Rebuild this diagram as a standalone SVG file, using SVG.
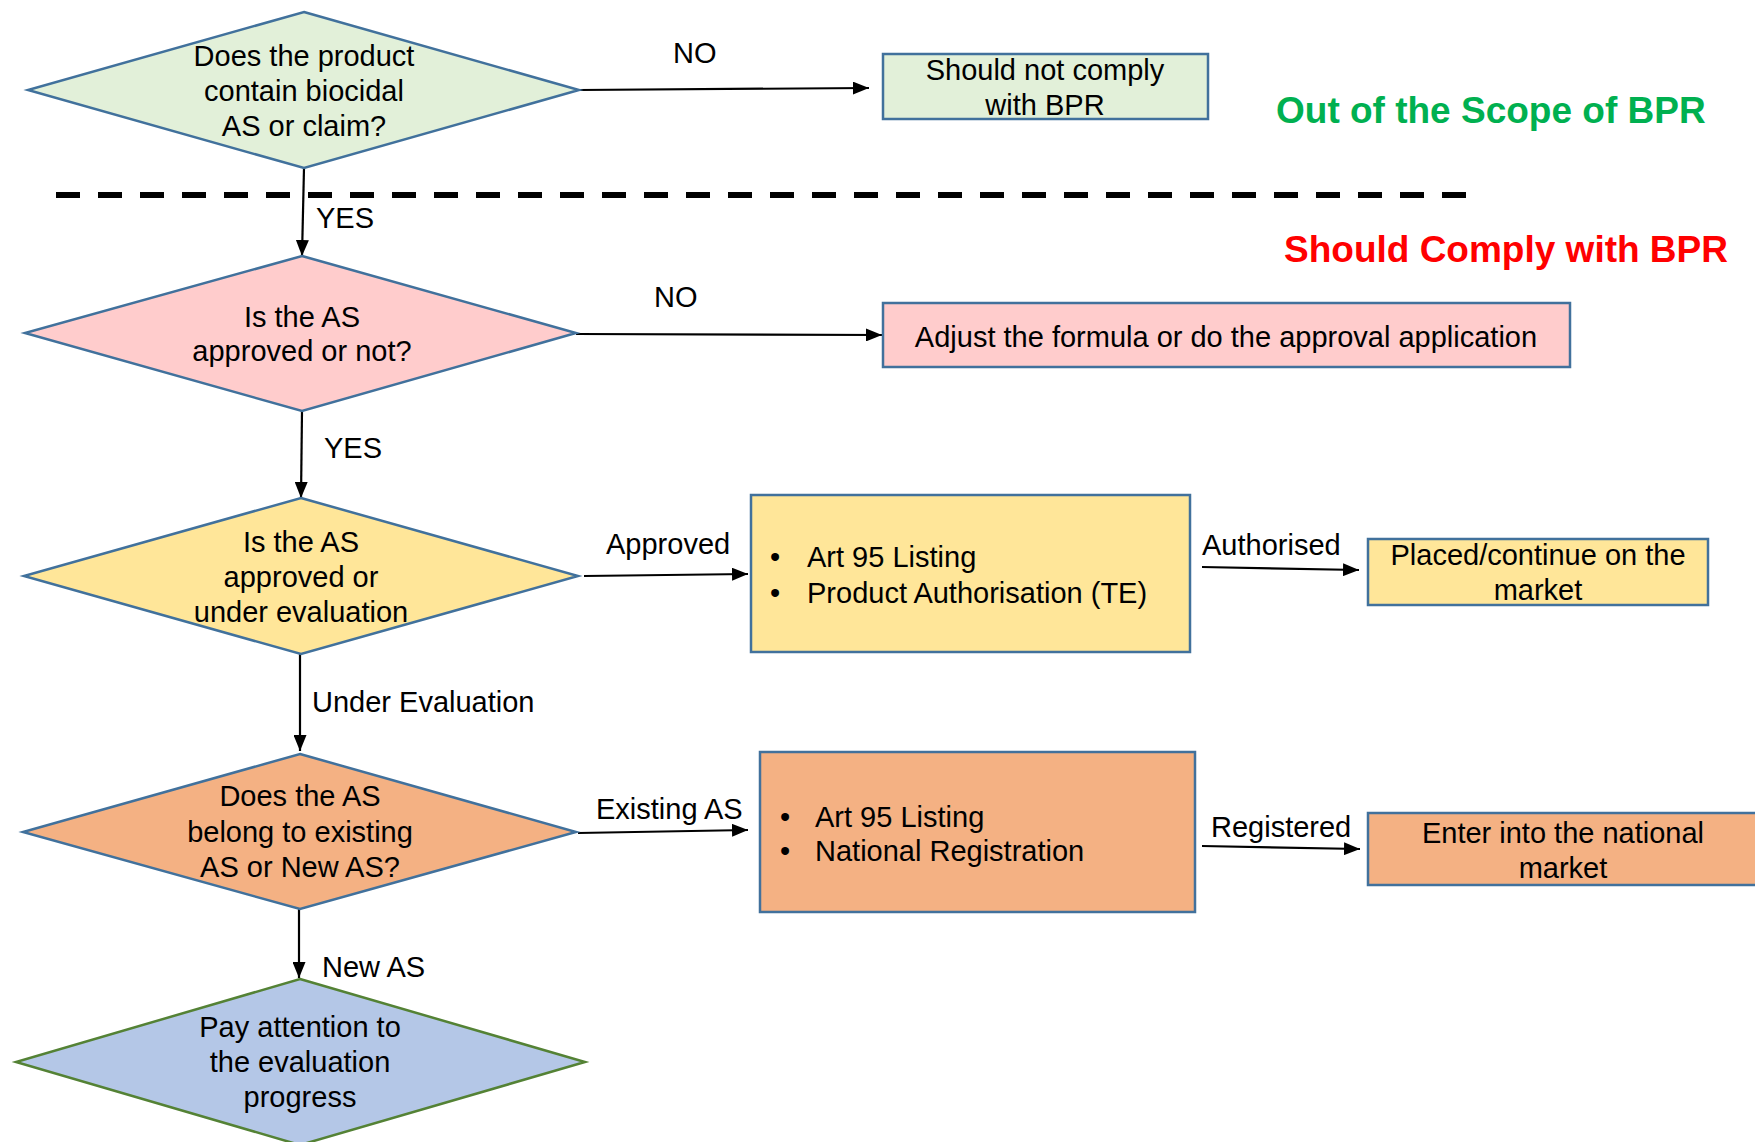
<svg xmlns="http://www.w3.org/2000/svg" width="1755" height="1142" viewBox="0 0 1755 1142">
  <style>
    text { font-family: "Liberation Sans", Arial, sans-serif; font-size: 29px; fill: #000; }
    .c { text-anchor: middle; }
    .shape { stroke: #41719C; stroke-width: 2.5; }
    .green { fill: #E2F0D9; }
    .pink { fill: #FFCCCC; }
    .yellow { fill: #FFE699; }
    .orange { fill: #F4B183; }
    .blue { fill: #B4C7E7; stroke: #548235; stroke-width: 2.5; }
    .link { fill: none; stroke: #000; stroke-width: 2.2; marker-end: url(#arrow); }
    .title { font-weight: bold; font-size: 37px; }
  </style>
  <defs>
    <marker id="arrow" markerUnits="userSpaceOnUse" markerWidth="16" markerHeight="13" refX="16" refY="6.5" orient="auto">
      <path d="M0,0 L16,6.5 L0,13 Z" fill="#000"/>
    </marker>
  </defs>

  <rect width="1755" height="1142" fill="#fff"/>

  <!-- scope divider -->
  <line x1="56" y1="195" x2="1466" y2="195" stroke="#000" stroke-width="6" stroke-dasharray="24 18"/>
  <text class="title" x="1276" y="123" fill="#00B050" style="fill:#00B050">Out of the Scope of BPR</text>
  <text class="title" x="1284" y="262" style="fill:#FF0000">Should Comply with BPR</text>

  <!-- connectors -->
  <g id="connectors">
    <path class="link" d="M579,90 L869,88"/>
    <path class="link" d="M304,168 L302,256"/>
    <path class="link" d="M576,334 L882,335"/>
    <path class="link" d="M302,411 L301,498"/>
    <path class="link" d="M584,576 L748,574"/>
    <path class="link" d="M1202,567 L1359,570"/>
    <path class="link" d="M300,654 L300,751"/>
    <path class="link" d="M578,833 L748,830"/>
    <path class="link" d="M1202,846 L1360,849"/>
    <path class="link" d="M299,909 L299,978"/>

    <text x="673" y="63">NO</text>
    <text x="316" y="228">YES</text>
    <text x="654" y="307">NO</text>
    <text x="324" y="458">YES</text>
    <text x="606" y="554">Approved</text>
    <text x="1202" y="555">Authorised</text>
    <text x="312" y="712">Under Evaluation</text>
    <text x="596" y="819">Existing AS</text>
    <text x="1211" y="837">Registered</text>
    <text x="322" y="977">New AS</text>
  </g>

  <!-- decision: contains biocidal AS -->
  <g id="q-biocidal">
    <polygon class="shape green" points="304,12 579,90 304,168 28,90"/>
    <text class="c" x="304" y="66">Does the product</text>
    <text class="c" x="304" y="101">contain biocidal</text>
    <text class="c" x="304" y="136">AS or claim?</text>
  </g>

  <g id="out-of-scope">
    <rect class="shape green" x="883" y="54" width="325" height="65"/>
    <text class="c" x="1045" y="80">Should not comply</text>
    <text class="c" x="1045" y="115">with BPR</text>
  </g>

  <!-- decision: AS approved -->
  <g id="q-approved">
    <polygon class="shape pink" points="302,256 576,333 302,411 25,333"/>
    <text class="c" x="302" y="327">Is the AS</text>
    <text class="c" x="302" y="361">approved or not?</text>
  </g>

  <g id="adjust">
    <rect class="shape pink" x="883" y="303" width="687" height="64"/>
    <text class="c" x="1226" y="347">Adjust the formula or do the approval application</text>
  </g>

  <!-- decision: approved or under evaluation -->
  <g id="q-status">
    <polygon class="shape yellow" points="301,498 578,576 301,654 24,576"/>
    <text class="c" x="301" y="552">Is the AS</text>
    <text class="c" x="301" y="587">approved or</text>
    <text class="c" x="301" y="622">under evaluation</text>
  </g>

  <g id="authorisation">
    <rect class="shape yellow" x="751" y="495" width="439" height="157"/>
    <text class="c" x="775" y="567">•</text>
    <text x="807" y="567">Art 95 Listing</text>
    <text class="c" x="775" y="603">•</text>
    <text x="807" y="603">Product Authorisation (TE)</text>
  </g>

  <g id="market">
    <rect class="shape yellow" x="1368" y="539" width="340" height="66"/>
    <text class="c" x="1538" y="565">Placed/continue on the</text>
    <text class="c" x="1538" y="600">market</text>
  </g>

  <!-- decision: existing or new AS -->
  <g id="q-existing">
    <polygon class="shape orange" points="300,754 576,832 300,909 23,832"/>
    <text class="c" x="300" y="806">Does the AS</text>
    <text class="c" x="300" y="842">belong to existing</text>
    <text class="c" x="300" y="877">AS or New AS?</text>
  </g>

  <g id="registration">
    <rect class="shape orange" x="760" y="752" width="435" height="160"/>
    <text class="c" x="785" y="827">•</text>
    <text x="815" y="827">Art 95 Listing</text>
    <text class="c" x="785" y="861">•</text>
    <text x="815" y="861">National Registration</text>
  </g>

  <g id="national-market">
    <rect class="shape orange" x="1368" y="813" width="390" height="72"/>
    <text class="c" x="1563" y="843">Enter into the national</text>
    <text class="c" x="1563" y="878">market</text>
  </g>

  <!-- outcome: new AS -->
  <g id="evaluation-progress">
    <polygon class="blue" points="300,979 585,1062 300,1145 16,1062"/>
    <text class="c" x="300" y="1037">Pay attention to</text>
    <text class="c" x="300" y="1072">the evaluation</text>
    <text class="c" x="300" y="1107">progress</text>
  </g>
</svg>
